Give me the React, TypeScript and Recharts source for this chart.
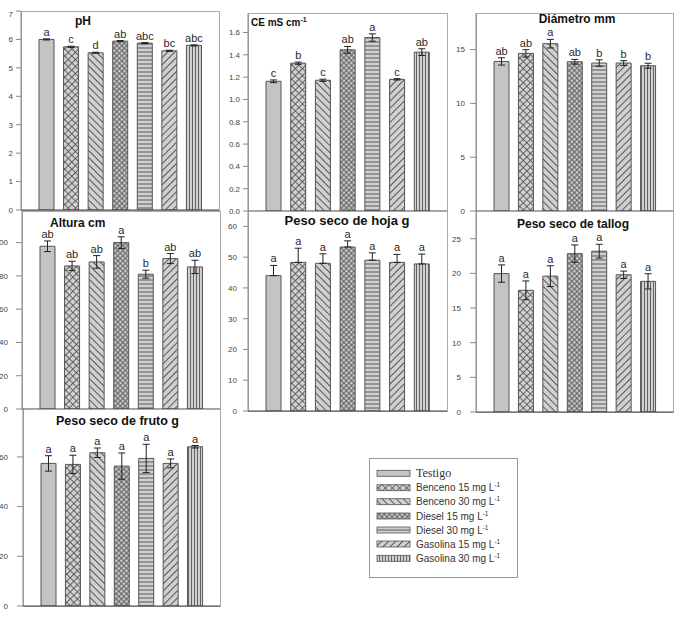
import React from 'react';
import { BarChart, Bar, XAxis, YAxis, ErrorBar, Cell, LabelList } from 'recharts';

const treatments = ['Testigo', 'Benceno 15 mg L', 'Benceno 30 mg L', 'Diesel 15 mg L', 'Diesel 30 mg L', 'Gasolina 15 mg L', 'Gasolina 30 mg L'];
const treatmentSup = ['', '-1', '-1', '-1', '-1', '-1', '-1'];

const phValues = [6.0, 5.74, 5.53, 5.94, 5.87, 5.6, 5.79];
const phErrors = [0.02, 0.02, 0.02, 0.02, 0.02, 0.02, 0.02];
const phLetters = ['a', 'c', 'd', 'ab', 'abc', 'bc', 'abc'];
const phTicks = [0, 1, 2, 3, 4, 5, 6, 7];

const ceValues = [1.163, 1.325, 1.172, 1.445, 1.555, 1.18, 1.424];
const ceErrors = [0.012, 0.01, 0.01, 0.03, 0.033, 0.006, 0.03];
const ceLetters = ['c', 'b', 'c', 'ab', 'a', 'c', 'ab'];
const ceTicks = [0, 0.2, 0.4, 0.6, 0.8, 1.0, 1.2, 1.4, 1.6];

const diamValues = [13.9, 14.65, 15.55, 13.87, 13.75, 13.75, 13.5];
const diamErrors = [0.34, 0.34, 0.4, 0.22, 0.3, 0.22, 0.23];
const diamLetters = ['ab', 'ab', 'a', 'ab', 'b', 'b', 'b'];
const diamTicks = [0, 5, 10, 15];

const alturaValues = [97.8, 86.0, 88.4, 100, 81, 90.4, 85.4];
const alturaErrors = [3.2, 2.8, 3.8, 3.5, 2.4, 3.0, 4.0];
const alturaLetters = ['ab', 'ab', 'ab', 'a', 'b', 'ab', 'ab'];
const alturaTicks = [0, 20, 40, 60, 80, 100];

const hojaValues = [44.0, 48.3, 48.0, 53.3, 49.0, 48.3, 47.8];
const hojaErrors = [3.3, 4.6, 3.1, 2.0, 2.4, 2.6, 3.2];
const hojaLetters = ['a', 'a', 'a', 'a', 'a', 'a', 'a'];
const hojaTicks = [0, 10, 20, 30, 40, 50, 60];

const talloValues = [19.97, 17.56, 19.6, 22.85, 23.2, 19.8, 18.85];
const talloErrors = [1.25, 1.35, 1.5, 1.25, 1.0, 0.53, 1.1];
const talloLetters = ['a', 'a', 'a', 'a', 'a', 'a', 'a'];
const talloTicks = [0, 5, 10, 15, 20, 25];

const frutoValues = [57.4, 57.0, 61.7, 56.3, 59.4, 57.4, 64.1];
const frutoErrors = [3.1, 3.7, 1.9, 5.3, 5.7, 1.8, 0.5];
const frutoLetters = ['a', 'a', 'a', 'a', 'a', 'a', 'a'];
const frutoTicks = [0, 20, 40, 60];

const SANS = 'Liberation Sans, Arial, Helvetica, sans-serif';
const SERIF = 'Liberation Serif, Times New Roman, serif';
const BG = '#d0d0d0';
const LN = '#585858';

function Patterns({ p }: { p: string }) {
  return (
    <defs>
      <pattern id={`${p}1`} width={5} height={5} patternUnits="userSpaceOnUse" patternTransform="rotate(45)">
        <rect width={5} height={5} fill={BG} />
        <line x1={2.5} y1={0} x2={2.5} y2={5} stroke={LN} strokeWidth={0.9} />
        <line x1={0} y1={2.5} x2={5} y2={2.5} stroke={LN} strokeWidth={0.9} />
      </pattern>
      <pattern id={`${p}2`} width={5} height={5} patternUnits="userSpaceOnUse" patternTransform="rotate(-45)">
        <rect width={5} height={5} fill={BG} />
        <line x1={2.5} y1={0} x2={2.5} y2={5} stroke={LN} strokeWidth={1} />
      </pattern>
      <pattern id={`${p}3`} width={3.6} height={3.6} patternUnits="userSpaceOnUse" patternTransform="rotate(45)">
        <rect width={3.6} height={3.6} fill={BG} />
        <line x1={1.8} y1={0} x2={1.8} y2={3.6} stroke={LN} strokeWidth={1} />
        <line x1={0} y1={1.8} x2={3.6} y2={1.8} stroke={LN} strokeWidth={1} />
      </pattern>
      <pattern id={`${p}4`} width={4} height={4} patternUnits="userSpaceOnUse">
        <rect width={4} height={4} fill={BG} />
        <line x1={0} y1={2} x2={4} y2={2} stroke={LN} strokeWidth={1} />
      </pattern>
      <pattern id={`${p}5`} width={5} height={5} patternUnits="userSpaceOnUse" patternTransform="rotate(45)">
        <rect width={5} height={5} fill={BG} />
        <line x1={2.5} y1={0} x2={2.5} y2={5} stroke={LN} strokeWidth={1} />
      </pattern>
      <pattern id={`${p}6`} width={3} height={3} patternUnits="userSpaceOnUse">
        <rect width={3} height={3} fill={BG} />
        <line x1={1.5} y1={0} x2={1.5} y2={3} stroke={LN} strokeWidth={0.9} />
      </pattern>
    </defs>
  );
}

const fillFor = (p: string, i: number) => (i === 0 ? '#c4c4c4' : `url(#${p}${i})`);

type Spec = {
  id: string;
  values: number[];
  errors: number[];
  letters: string[];
  ticks: number[];
  max: number;
  box: [number, number, number, number];
  tickSize: number;
  tickMargin: number;
  upperOnly?: boolean;
  fmt?: (v: number) => string;
};

const specs: Spec[] = [
  { id: 'ph', values: phValues, errors: phErrors, letters: phLetters, ticks: phTicks, max: 7, box: [21, 11, 219, 210], tickSize: 5, tickMargin: 3 },
  { id: 'ce', values: ceValues, errors: ceErrors, letters: ceLetters, ticks: ceTicks, max: 1.775, box: [248, 13, 447, 211], tickSize: 5, tickMargin: 3, fmt: (v) => v.toFixed(1) },
  { id: 'di', values: diamValues, errors: diamErrors, letters: diamLetters, ticks: diamTicks, max: 18.4, box: [476, 13, 673, 211], tickSize: 6, tickMargin: 5 },
  { id: 'al', values: alturaValues, errors: alturaErrors, letters: alturaLetters, ticks: alturaTicks, max: 119, box: [22, 211, 220, 409], tickSize: 6, tickMargin: 8 },
  { id: 'ho', values: hojaValues, errors: hojaErrors, letters: hojaLetters, ticks: hojaTicks, max: 65, box: [248, 211, 447, 411], tickSize: 5, tickMargin: 6, upperOnly: true },
  { id: 'ta', values: talloValues, errors: talloErrors, letters: talloLetters, ticks: talloTicks, max: 29, box: [476, 211, 673, 412], tickSize: 6, tickMargin: 9 },
  { id: 'fr', values: frutoValues, errors: frutoErrors, letters: frutoLetters, ticks: frutoTicks, max: 79.3, box: [23, 409, 220, 606], tickSize: 6, tickMargin: 9 },
];

const makeLabel = (spec: Spec) => (props: any) => {
  const vb = props.viewBox || {};
  const x = props.x ?? vb.x;
  const y = props.y ?? vb.y;
  const width = props.width ?? vb.width;
  const height = Math.abs(props.height ?? vb.height ?? 0);
  const index = props.index ?? 0;
  const v = spec.values[index];
  const e = spec.errors[index];
  const pxPer = v ? height / v : 0;
  const ty = y - e * pxPer - 3;
  return (
    <text x={x + width / 2} y={ty} textAnchor="middle" fontSize={11} fill="#2a2a2a" fontFamily={SANS}>
      {spec.letters[index]}
    </text>
  );
};

function Panel({ spec }: { spec: Spec }) {
  const [l, t, r, b] = spec.box;
  const AX = 34;
  const XH = 8;
  const PAD = 1;
  const w = r - l;
  const h = b - t;
  const data = spec.values.map((v, i) => ({
    name: treatments[i],
    value: v,
    err: spec.upperOnly ? [0, spec.errors[i]] : spec.errors[i],
  }));
  return (
    <>
      <div style={{ position: 'absolute', left: l, top: t, width: w + 1, height: h + 1, border: '1px solid #aaaaaa', boxSizing: 'border-box' }} />
      <div style={{ position: 'absolute', left: l - AX, top: t - PAD }}>
        <BarChart width={AX + w + PAD} height={PAD + h + XH} data={data} margin={{ top: PAD, right: PAD, left: 0, bottom: 0 }} barSize={15}>
          <Patterns p={spec.id} />
          <XAxis dataKey="name" tick={false} tickLine={{ stroke: '#777' }} tickSize={4} axisLine={{ stroke: '#444' }} height={XH} padding={{ left: 13, right: 13 }} interval={0} />
          <YAxis
            type="number"
            domain={[0, spec.max]}
            ticks={spec.ticks}
            allowDataOverflow
            width={AX}
            tickSize={spec.tickSize}
            tickMargin={spec.tickMargin}
            tick={{ fontSize: 8, fill: '#444', fontFamily: SANS }}
            tickFormatter={spec.fmt}
            axisLine={{ stroke: '#888' }}
            tickLine={{ stroke: '#888' }}
          />
          <Bar dataKey="value" isAnimationActive={false} stroke="#555" strokeWidth={1}>
            {data.map((d, i) => (
              <Cell key={i} fill={fillFor(spec.id, i)} />
            ))}
            <ErrorBar dataKey="err" width={3.5} stroke="#222" strokeWidth={1} />
            <LabelList dataKey="value" content={makeLabel(spec)} />
          </Bar>
        </BarChart>
      </div>
    </>
  );
}

const legendRowsY = [473.3, 487.7, 501.7, 516, 530, 544, 558.3];

export default function App() {
  return (
    <div style={{ position: 'absolute', left: 0, top: 0, width: 680, height: 617, overflow: 'hidden', background: '#fff' }}>
      {specs.map((s) => (
        <Panel key={s.id} spec={s} />
      ))}
      <svg width={680} height={617} style={{ position: 'absolute', left: 0, top: 0, pointerEvents: 'none' }}>
        <Patterns p="lg" />
        <g fontFamily={SANS} fontWeight="bold" fill="#111">
          <text x={75} y={25} fontSize={12}>pH</text>
          <text x={251} y={26} fontSize={10}>
            CE mS cm<tspan fontSize={7} dy={-4}>-1</tspan>
          </text>
          <text x={577} y={23} fontSize={12} textAnchor="middle">Diámetro mm</text>
          <text x={50} y={226.5} fontSize={12}>Altura cm</text>
          <text x={347} y={225} fontSize={13} textAnchor="middle">Peso seco de hoja g</text>
          <text x={573} y={227.5} fontSize={12} textAnchor="middle">Peso seco de tallog</text>
          <text x={117.5} y={425} fontSize={12.5} textAnchor="middle">Peso seco de fruto g</text>
        </g>
        <rect x={369.5} y={458.5} width={148} height={119} fill="none" stroke="#999" strokeWidth={1} />
        {treatments.map((name, i) => (
          <g key={name}>
            <rect x={377} y={legendRowsY[i] - 3} width={33} height={6} fill={fillFor('lg', i)} stroke="#555" strokeWidth={0.8} />
            <text
              x={416}
              y={legendRowsY[i] + 3.6}
              fontSize={i === 0 ? 12 : 10}
              fontFamily={i === 0 ? SERIF : SANS}
              fill="#333"
            >
              {name}
              {treatmentSup[i] ? (
                <tspan fontSize={6.5} dy={-4}>
                  {treatmentSup[i]}
                </tspan>
              ) : null}
            </text>
          </g>
        ))}
      </svg>
    </div>
  );
}
